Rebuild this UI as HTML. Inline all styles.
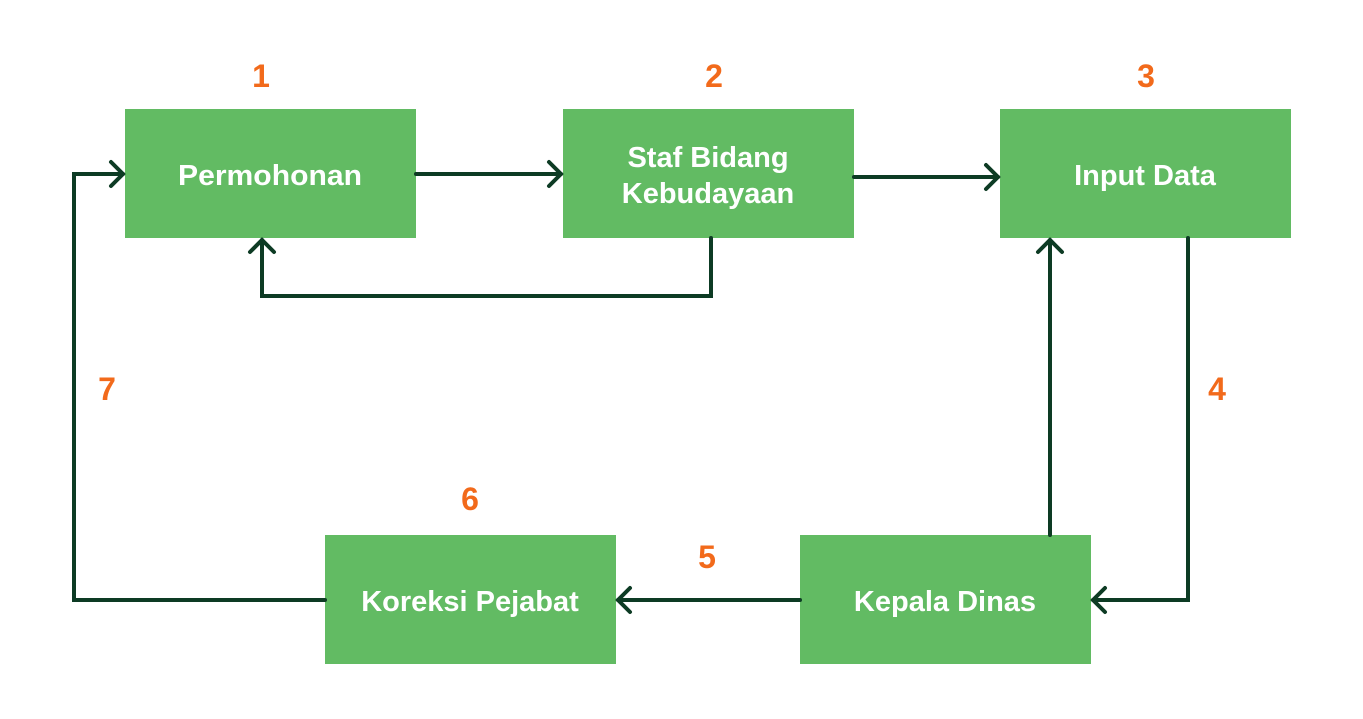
<!DOCTYPE html>
<html><head><style>
html,body{margin:0;padding:0;background:#fff;width:1363px;height:719px;overflow:hidden}
</style></head><body>
<svg width="1363" height="719" viewBox="0 0 1363 719" xmlns="http://www.w3.org/2000/svg" font-family="Liberation Sans, sans-serif" font-weight="bold">
<g fill="#62BB63">
<rect x="125" y="109" width="291" height="129"/>
<rect x="563" y="109" width="291" height="129"/>
<rect x="1000" y="109" width="291" height="129"/>
<rect x="325" y="535" width="291" height="129"/>
<rect x="800" y="535" width="291" height="129"/>
</g>
<g fill="none" stroke="#0D3B24" stroke-width="4" stroke-linecap="round" stroke-linejoin="miter">
<path d="M416 174H561"/><path d="M549 162L561 174L549 186"/>
<path d="M854 177H998"/><path d="M986 165L998 177L986 189"/>
<path d="M711 238V296H262V240"/><path d="M250 252L262 240L274 252"/>
<path d="M1188 238V600H1093"/><path d="M1105 588L1093 600L1105 612"/>
<path d="M1050 535V240"/><path d="M1038 252L1050 240L1062 252"/>
<path d="M800 600H618"/><path d="M630 588L618 600L630 612"/>
<path d="M325 600H74V174H123"/><path d="M111 162L123 174L111 186"/>
</g>
<g fill="#fff" font-size="29" text-anchor="middle">
<text x="270" y="185" textLength="184" lengthAdjust="spacingAndGlyphs">Permohonan</text>
<text x="708" y="167">Staf Bidang</text>
<text x="708" y="203">Kebudayaan</text>
<text x="1145" y="185">Input Data</text>
<text x="470" y="611">Koreksi Pejabat</text>
<text x="945" y="611">Kepala Dinas</text>
</g>
<g fill="#F26A1B" font-size="32" text-anchor="middle">
<text x="261" y="87">1</text>
<text x="714" y="87">2</text>
<text x="1146" y="87">3</text>
<text x="1217" y="400">4</text>
<text x="707" y="568">5</text>
<text x="470" y="510">6</text>
<text x="107" y="400">7</text>
</g>
</svg>
</body></html>
